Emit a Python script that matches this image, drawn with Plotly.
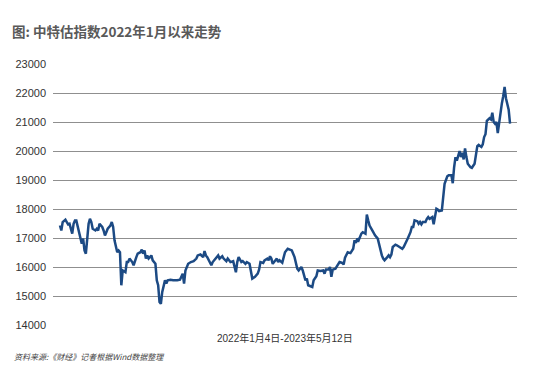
import plotly.graph_objects as go

# trading-day index since 2022-01-04 and index level
days = [0, 1, 2, 4, 5, 6, 7, 9, 10, 11, 12, 13, 15, 16, 17, 18, 19, 20, 21, 22, 23, 24, 26, 27, 28, 29,
        31, 32, 33, 34, 35, 37, 38, 39, 40, 42, 43, 44, 45, 46, 48, 49, 50, 51, 53, 54, 55, 56, 57, 59,
        60, 61, 62, 63, 64, 65, 66, 67, 68, 70, 71, 72, 73, 74, 75, 76, 77, 78, 79, 81, 83, 86, 88, 90,
        91, 92, 94, 96, 98, 100, 101, 103, 105, 106, 107, 108, 110, 111, 112, 114, 116, 117, 119, 120,
        122, 123, 125, 127, 128, 129, 130, 131, 133, 134, 136, 137, 139, 140, 141, 143, 145, 146, 147,
        149, 150, 152, 153, 154, 155, 156, 158, 159, 160, 161, 163, 164, 165, 166, 167, 170, 172, 174,
        175, 177, 178, 180, 181, 182, 185, 186, 188, 189, 191, 193, 194, 195, 197, 198, 199, 200, 202,
        203, 205, 207, 208, 209, 210, 211, 213, 215, 216, 217, 218, 219, 221, 222, 224, 225, 226, 227,
        229, 231, 233, 234, 235, 236, 237, 238, 240, 241, 242, 243, 244, 246, 247, 249, 251, 252, 254,
        255, 257, 258, 259, 260, 262, 263, 264, 265, 266, 268, 269, 270, 271, 273, 274, 275, 276, 277,
        278, 280, 281, 282, 284, 285, 287, 288, 289, 290, 291, 293, 294, 295, 296, 297, 298, 299, 301,
        302, 304, 305, 306, 307, 309, 310, 311, 312, 313, 315, 316, 317, 318, 319, 320, 321, 322, 323,
        324, 325, 326, 327, 329, 330]
values = [17430, 17260, 17550, 17630, 17550, 17470, 17490, 17150, 17490, 17600, 17600, 17380, 17030,
          16800, 16980, 16570, 16460, 17150, 17490, 17660, 17550, 17320, 17260, 17320, 17260, 17490,
          17380, 17260, 17090, 17200, 17320, 17430, 17550, 17380, 16920, 16510, 16570, 16510, 15370,
          15880, 15820, 16170, 16170, 16290, 16170, 16060, 16230, 16340, 16460, 16510, 16600, 16460,
          16570, 16290, 16400, 16290, 16340, 16400, 16230, 16110, 15540, 15370, 14790, 14730, 15140,
          15310, 15540, 15430, 15540, 15560, 15540, 15540, 15560, 15770, 15430, 15880, 16110, 16170,
          16200, 16290, 16400, 16430, 16340, 16550, 16400, 16340, 16170, 16060, 16170, 16290, 16400,
          16290, 16370, 16290, 16200, 16290, 16170, 16200, 16000, 15820, 16170, 16340, 16170, 16200,
          16110, 16170, 16110, 15880, 15600, 15660, 15770, 15910, 16170, 16140, 16230, 16290, 16230,
          16370, 16290, 16110, 16230, 16290, 16170, 16230, 16150, 16400, 16510, 16570, 16630, 16570,
          16340, 15940, 15880, 16000, 15880, 15540, 15600, 15370, 15310, 15540, 15680, 15880, 15860,
          15880, 15770, 15910, 15910, 16000, 15660, 15910, 15940, 16020, 16170, 16140, 16090, 16320,
          16400, 16510, 16480, 16630, 16920, 16830, 16980, 16920, 17150, 17200, 17150, 17810, 17610,
          17430, 17260, 17090, 16980, 16750, 16510, 16400, 16290, 16230, 16340, 16400, 16340, 16430,
          16690, 16770, 16750, 16690, 16630, 16690, 16860, 16980, 17200, 17380, 17380, 17610, 17580,
          17490, 17550, 17470, 17550, 17550, 17660, 17720, 17660, 17720, 17470, 17840, 18010, 17980,
          17930, 17950, 18530, 18870, 19130, 19160, 19160, 18890, 19440, 19790, 19670, 20000, 19790,
          19940, 19710, 20090, 19790, 19560, 19440, 19420, 19560, 19890, 20170, 20210, 20140, 20230,
          20480, 20580, 21040, 21130, 21090, 21320, 21000, 20940, 21000, 20620, 21000, 21460, 21640,
          21890, 22210, 21820, 21420, 20940]

y_ticks = [14000, 15000, 16000, 17000, 18000, 19000, 20000, 21000, 22000, 23000]

title_text = "图: 中特估指数2022年1月以来走势"
x_label = "2022年1月4日-2023年5月12日"
source_text = "资料来源:《财经》记者根据Wind数据整理"

fig = go.Figure()
fig.add_trace(go.Scatter(
    x=days, y=values, mode="lines",
    line=dict(color="#1c4a84", width=2.5),
    hoverinfo="skip", showlegend=False,
))

fig.update_layout(
    width=542, height=368,
    margin=dict(l=53, r=25, t=64, b=43),
    paper_bgcolor="white", plot_bgcolor="white",
    font=dict(family="Liberation Sans, Noto Sans CJK SC", color="#333"),
    title=dict(
        text=title_text, xref="container", yref="container",
        x=12 / 542, y=1 - 32 / 368, xanchor="left", yanchor="middle",
        font=dict(family="Noto Sans CJK SC", size=13.5, color="#595959", weight="bold"),
    ),
    xaxis=dict(
        range=[-5.1, 335.1], showgrid=False, showticklabels=False,
        zeroline=False, showline=False, ticks="",
    ),
    yaxis=dict(
        range=[14000, 23000], tickvals=y_ticks,
        ticktext=[str(v) for v in y_ticks],
        showgrid=True, gridcolor="#8f8f8f", gridwidth=1.3,
        zeroline=False, showline=False, ticks="",
        tickfont=dict(family="Liberation Sans", size=11, color="#333"),
        ticklabelstandoff=6,
    ),
    annotations=[
        dict(text=x_label, xref="paper", yref="paper", x=0.5, y=-0.05,
             xanchor="center", yanchor="middle", showarrow=False,
             font=dict(family="Liberation Sans, Noto Sans CJK SC", size=10, color="#333")),
        dict(text="<i>" + source_text + "</i>", xref="paper", yref="paper",
             x=(12 - 53) / 464, y=-(356 - 325) / 261,
             xanchor="left", yanchor="middle", showarrow=False,
             font=dict(family="Noto Sans CJK SC", size=8, color="#444")),
    ],
)

fig.write_html("out.html", config={"displayModeBar": False},
               post_script="document.body.style.margin='0px';")
